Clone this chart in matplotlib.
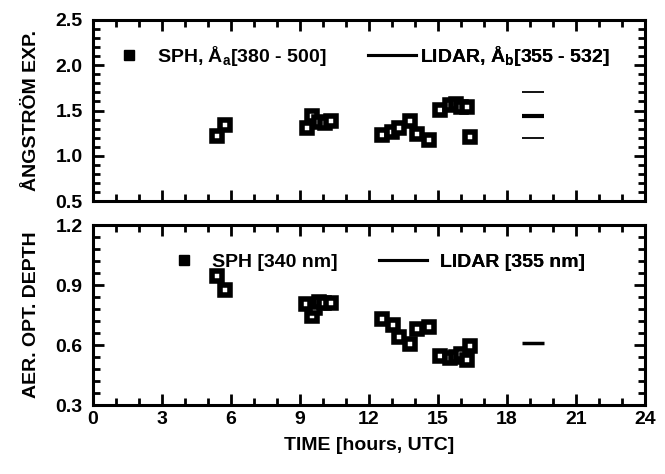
import matplotlib
matplotlib.use("Agg")
import matplotlib.pyplot as plt
from matplotlib.lines import Line2D
from matplotlib.ticker import MultipleLocator, FormatStrFormatter

plt.rcParams['font.family'] = ['Liberation Sans', 'DejaVu Sans']
plt.rcParams['font.weight'] = 'bold'
plt.rcParams['mathtext.fontset'] = 'custom'
plt.rcParams['mathtext.rm'] = 'Liberation Sans:bold'
plt.rcParams['mathtext.it'] = 'Liberation Sans:bold'
plt.rcParams['mathtext.bf'] = 'Liberation Sans:bold'

# ---- data: Angstrom exponent (sun photometer) ----
ang_time = [5.37, 5.74, 9.30, 9.54, 9.84, 10.08, 10.36,
            12.57, 12.98, 13.30, 13.79, 14.07, 14.59,
            15.07, 15.53, 15.77, 16.02, 16.28, 16.37]
ang_val = [1.22, 1.34, 1.31, 1.44, 1.37, 1.36, 1.38,
           1.23, 1.26, 1.31, 1.38, 1.24, 1.17,
           1.51, 1.56, 1.57, 1.54, 1.54, 1.21]

# ---- data: Aerosol optical depth (sun photometer) ----
aod_time = [5.37, 5.74, 9.27, 9.54, 9.67, 9.84, 10.05, 10.36,
            12.57, 13.06, 13.30, 13.79, 14.07, 14.59,
            15.07, 15.53, 15.77, 16.02, 16.28, 16.37]
aod_val = [0.945, 0.875, 0.803, 0.745, 0.783, 0.813, 0.808, 0.812,
           0.732, 0.700, 0.642, 0.605, 0.678, 0.688,
           0.547, 0.533, 0.540, 0.555, 0.525, 0.595]

# ---- data: LIDAR ----
lidar_t0 = 18.67
lidar_t1 = 19.59
lidar_ang = [1.44]
lidar_ang_bounds = [1.70, 1.20]
lidar_aod = [0.61]

x_ticks = [0, 3, 6, 9, 12, 15, 18, 21, 24]

FS = 14

fig = plt.figure(figsize=(6.65, 4.74), dpi=100)
ax1 = fig.add_axes([93/665, 1-201/474, 552/665, 181/474])
ax2 = fig.add_axes([93/665, 1-405/474, 552/665, 180/474])

sq = dict(linestyle='none', marker='s', markersize=7.4, markerfacecolor='white',
          markeredgecolor='black', markeredgewidth=4.0, zorder=3)

ax1.plot(ang_time, ang_val, **sq)
ax1.hlines(lidar_ang, lidar_t0, lidar_t1, colors='black', linewidth=3.0)
ax1.hlines(lidar_ang_bounds, lidar_t0, lidar_t1, colors='black', linewidth=1.3)

ax2.plot(aod_time, aod_val, **sq)
ax2.hlines(lidar_aod, lidar_t0, lidar_t1, colors='black', linewidth=2.5)

ax1.set_ylim(0.5, 2.5)
ax1.yaxis.set_major_locator(MultipleLocator(0.5))
ax1.yaxis.set_minor_locator(MultipleLocator(0.1))
ax2.set_ylim(0.3, 1.2)
ax2.yaxis.set_major_locator(MultipleLocator(0.3))
ax2.yaxis.set_minor_locator(MultipleLocator(0.06))

for ax in (ax1, ax2):
    ax.set_xlim(0, 24)
    ax.set_xticks(x_ticks)
    ax.xaxis.set_minor_locator(MultipleLocator(1))
    ax.tick_params(which='both', direction='in', top=True, right=True,
                   width=2.0, labelsize=FS)
    ax.tick_params(axis='y', pad=7.5)
    ax.tick_params(axis='x', pad=4)
    ax.tick_params(which='major', length=8)
    ax.tick_params(which='minor', length=5)
    for s in ax.spines.values():
        s.set_linewidth(2.2)
    ax.yaxis.set_major_formatter(FormatStrFormatter('%.1f'))

ax1.tick_params(labelbottom=False)

ax1.set_ylabel('ÅNGSTRÖM EXP.', fontsize=FS, fontweight='bold', labelpad=11)
ax2.set_ylabel('AER. OPT. DEPTH', fontsize=FS, fontweight='bold', labelpad=11)
ax2.set_xlabel('TIME [hours, UTC]', fontsize=FS, fontweight='bold', labelpad=7)
fig.align_ylabels([ax1, ax2])

sq_h = Line2D([], [], linestyle='none', marker='s', markersize=7.2,
              markerfacecolor='black', markeredgecolor='black')
ln_h = Line2D([], [], color='black', linewidth=2.2)


def entry(ax, handle, label, x, y, pad):
    lg = ax.legend([handle], [label], loc='center left', bbox_to_anchor=(x, y),
                   frameon=False, handlelength=2.47, handletextpad=pad,
                   borderpad=0, borderaxespad=0,
                   prop={'size': FS, 'weight': 'bold'})
    ax.add_artist(lg)


entry(ax1, sq_h, 'SPH, Å$_{\\mathrm{a}}$[380 - 500]', 0.021, 0.80, 0.21)
entry(ax1, ln_h, 'LIDAR, Å$_{\\mathrm{b}}$[355 - 532]', 0.498, 0.80, 0.21)
entry(ax2, sq_h, 'SPH [340 nm]', 0.121, 0.795, 0.21)
entry(ax2, ln_h, 'LIDAR [355 nm]', 0.518, 0.795, 0.65)

fig.savefig('out.png', dpi=100)
